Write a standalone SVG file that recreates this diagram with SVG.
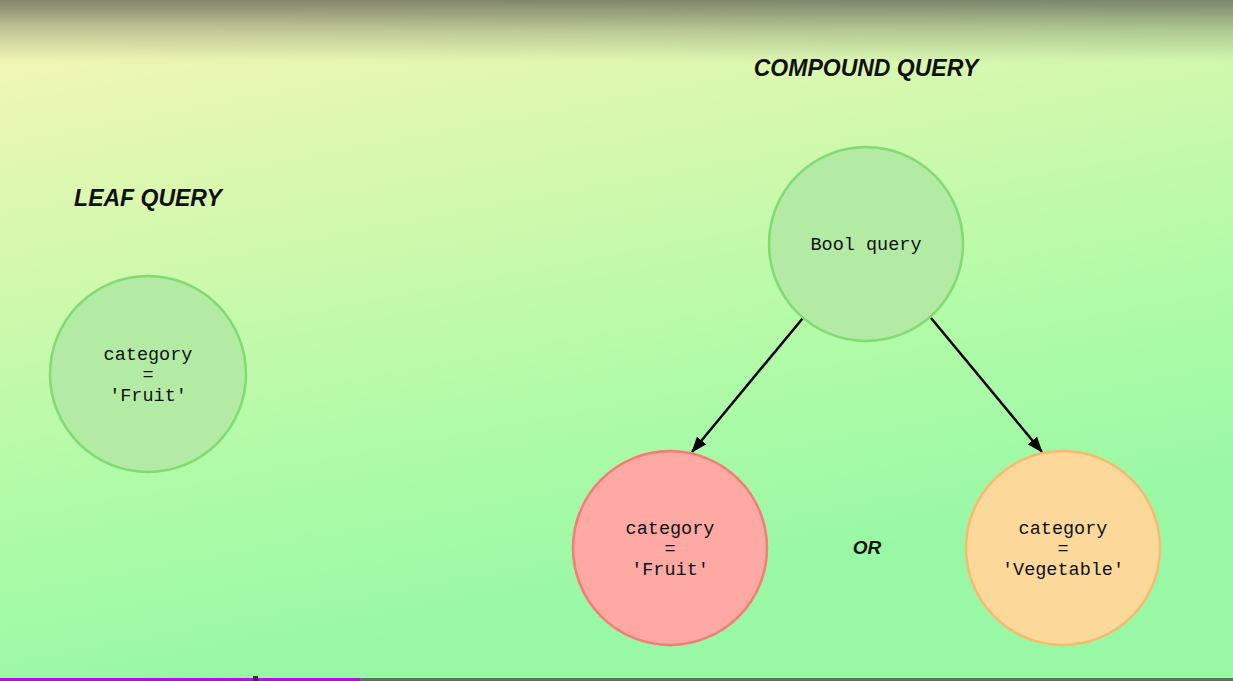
<svg xmlns="http://www.w3.org/2000/svg" width="1233" height="681" viewBox="0 0 1233 681">
<defs>
<linearGradient id="bg" x1="0" y1="60" x2="120" y2="700" gradientUnits="userSpaceOnUse">
<stop offset="0" stop-color="#f0f6b5"/>
<stop offset="0.33" stop-color="#d2f8ae"/>
<stop offset="0.7" stop-color="#aefba7"/>
<stop offset="1" stop-color="#98f8a6"/>
</linearGradient>
<linearGradient id="shade" x1="0" y1="0" x2="0" y2="1">
<stop offset="0" stop-color="#404040" stop-opacity="0.62"/>
<stop offset="0.5" stop-color="#404040" stop-opacity="0.25"/>
<stop offset="1" stop-color="#404040" stop-opacity="0"/>
</linearGradient>
<marker id="arrow" viewBox="0 0 16 12" refX="15" refY="6" markerWidth="16" markerHeight="12" markerUnits="userSpaceOnUse" orient="auto">
<path d="M0,0 L16,6 L0,12 z" fill="#000"/>
</marker>
<style>
.node text{font-family:"Liberation Mono","DejaVu Sans Mono",monospace;font-size:18.5px;fill:#111;text-anchor:middle}
.title{font-family:"Liberation Sans","DejaVu Sans",sans-serif;font-weight:bold;font-style:italic;fill:#111;text-anchor:middle}
.green{fill:#b3eba5;stroke:#80dc70;stroke-width:2.5}
.red{fill:#fea9a4;stroke:#f77c72;stroke-width:2.5}
.orange{fill:#fdd89b;stroke:#fdb96c;stroke-width:2.5}
.edge{stroke:#000;stroke-width:2.5;fill:none;marker-end:url(#arrow)}
</style>
</defs>
<rect width="1233" height="681" fill="url(#bg)"/>
<rect width="1233" height="62" fill="url(#shade)"/>
<text class="title" x="866" y="76" font-size="23">COMPOUND QUERY</text>
<text class="title" x="148" y="206" font-size="23">LEAF QUERY</text>
<text class="title" x="867" y="554" font-size="19">OR</text>
<g id="connectors">
<line class="edge" x1="803" y1="318" x2="692" y2="452"/>
<line class="edge" x1="931" y1="318" x2="1042" y2="452"/>
</g>
<g id="leaf" class="node">
<circle class="green" cx="148" cy="374" r="98"/>
<text x="148" y="360">category</text>
<text x="148" y="380">=</text>
<text x="148" y="401">'Fruit'</text>
</g>
<g id="bool" class="node">
<circle class="green" cx="866" cy="244" r="97"/>
<text x="866" y="250">Bool query</text>
</g>
<g id="fruit" class="node">
<circle class="red" cx="670" cy="548" r="97"/>
<text x="670" y="534">category</text>
<text x="670" y="554">=</text>
<text x="670" y="575">'Fruit'</text>
</g>
<g id="vegetable" class="node">
<circle class="orange" cx="1063" cy="548" r="97"/>
<text x="1063" y="534">category</text>
<text x="1063" y="554">=</text>
<text x="1063" y="575">'Vegetable'</text>
</g>
<rect x="0" y="678" width="360" height="3" fill="#c800f0"/>
<rect x="360" y="678" width="873" height="3" fill="#607060"/>
<rect x="253" y="676" width="5" height="5" fill="#333"/>
</svg>
